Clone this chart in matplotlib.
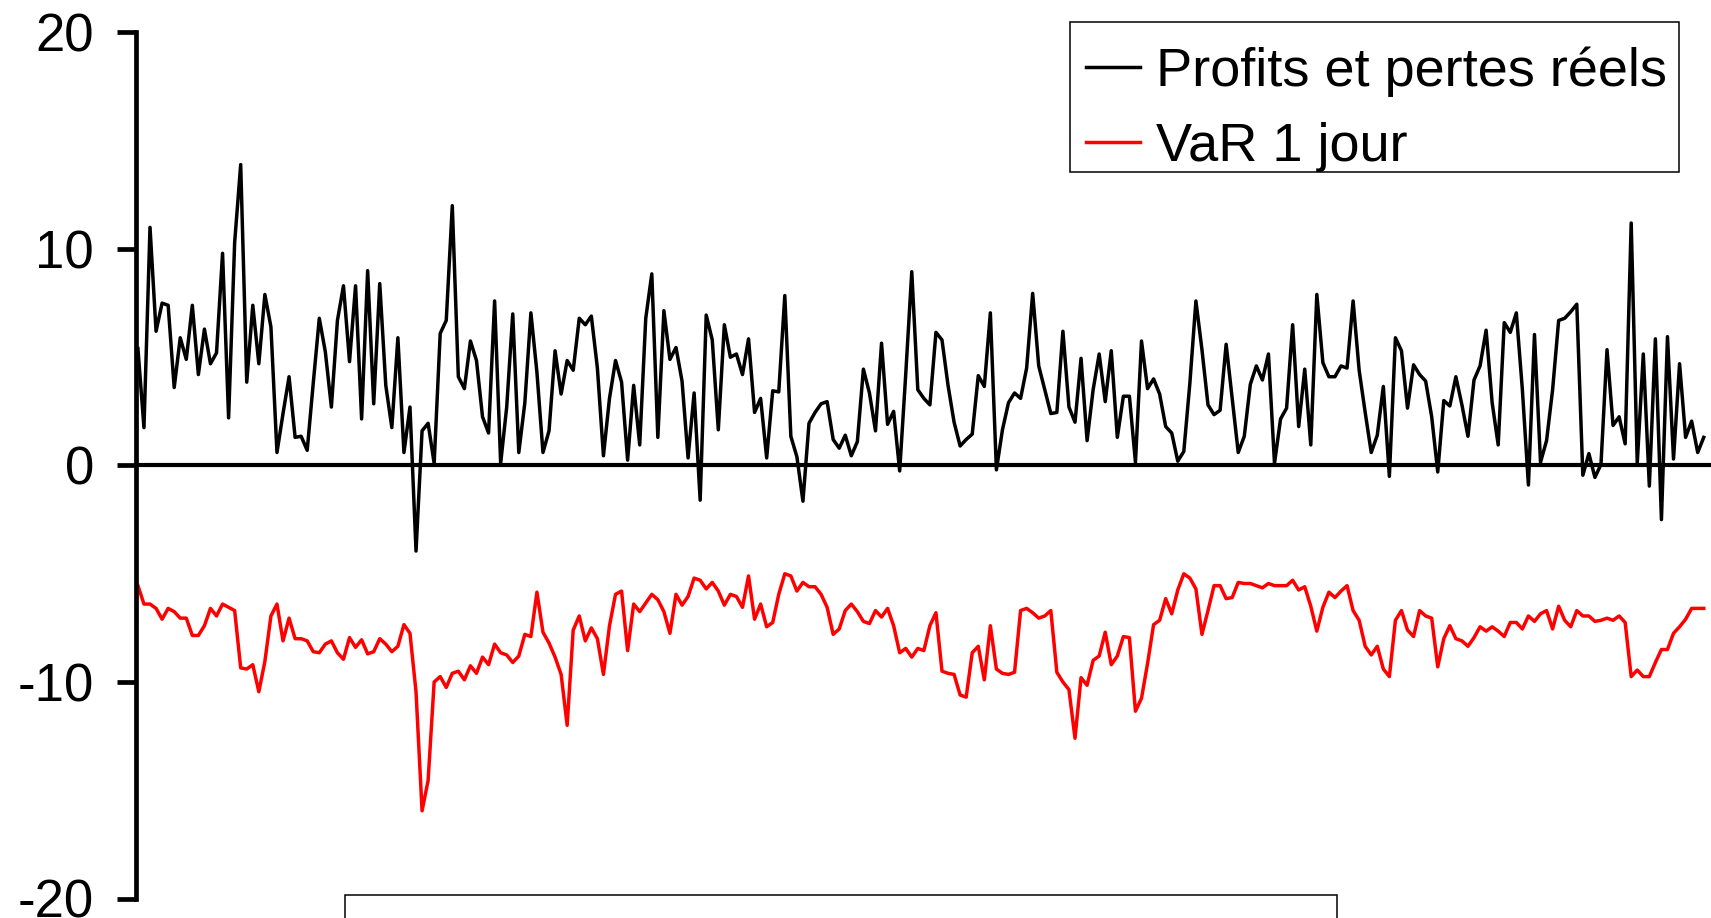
import numpy as np
import matplotlib
matplotlib.use("Agg")
import matplotlib.pyplot as plt
from matplotlib.patches import Rectangle

plt.rcParams['font.family'] = ['Liberation Sans', 'DejaVu Sans']
plt.rcParams['axes.unicode_minus'] = False

# profits et pertes reels (black) and VaR 1 jour (red), one value per trading day
pnl = [
    5.4, 1.75, 11.0, 6.2, 7.5, 7.4, 3.6, 5.9, 4.9, 7.4,
    4.2, 6.3, 4.7, 5.2, 9.8, 2.2, 10.3, 13.9, 3.85, 7.4,
    4.7, 7.9, 6.4, 0.6, 2.4, 4.1, 1.3, 1.35, 0.7, 3.8,
    6.8, 5.25, 2.7, 6.7, 8.3, 4.8, 8.3, 2.15, 9.0, 2.85,
    8.4, 3.7, 1.75, 5.9, 0.6, 2.7, -3.95, 1.6, 1.95, 0.1,
    6.1, 6.7, 12.0, 4.1, 3.55, 5.75, 4.85, 2.25, 1.5, 7.6,
    0.1, 2.7, 7.0, 0.6, 2.9, 7.05, 4.3, 0.6, 1.6, 5.3,
    3.3, 4.85, 4.4, 6.8, 6.5, 6.9, 4.5, 0.45, 3.1, 4.85,
    3.85, 0.25, 3.7, 0.95, 6.8, 8.85, 1.3, 7.15, 4.9, 5.45,
    3.9, 0.35, 3.35, -1.6, 6.95, 5.8, 1.65, 6.5, 5.0, 5.15,
    4.2, 5.85, 2.45, 3.1, 0.35, 3.45, 3.4, 7.85, 1.35, 0.4,
    -1.65, 1.95, 2.45, 2.85, 2.95, 1.2, 0.8, 1.4, 0.45, 1.1,
    4.45, 3.35, 1.6, 5.65, 1.9, 2.5, -0.25, 4.2, 8.95, 3.5,
    3.1, 2.8, 6.15, 5.8, 3.7, 2.0, 0.9, 1.2, 1.45, 4.15,
    3.65, 7.05, -0.2, 1.65, 2.9, 3.35, 3.1, 4.5, 7.95, 4.6,
    3.5, 2.4, 2.45, 6.2, 2.7, 2.0, 4.95, 1.15, 3.5, 5.15,
    2.95, 5.3, 1.3, 3.2, 3.2, 0.15, 5.75, 3.55, 4.0, 3.3,
    1.8, 1.5, 0.2, 0.65, 3.8, 7.6, 5.35, 2.8, 2.35, 2.55,
    5.6, 3.1, 0.6, 1.35, 3.75, 4.6, 3.95, 5.15, 0.1, 2.15,
    2.65, 6.5, 1.8, 4.45, 0.95, 7.9, 4.75, 4.1, 4.1, 4.6,
    4.5, 7.6, 4.4, 2.45, 0.6, 1.4, 3.65, -0.5, 5.9, 5.3,
    2.65, 4.65, 4.2, 3.9, 2.25, -0.3, 3.0, 2.75, 4.1, 2.8,
    1.35, 3.95, 4.6, 6.25, 2.9, 0.95, 6.6, 6.15, 7.05, 3.5,
    -0.9, 6.05, 0.15, 1.15, 3.5, 6.7, 6.8, 7.1, 7.45, -0.45,
    0.55, -0.55, 0.05, 5.35, 1.85, 2.25, 1.0, 11.2, 0.1, 5.15,
    -0.95, 5.85, -2.5, 5.95, 0.3, 4.7, 1.3, 2.05, 0.6, 1.3,
]

var_1j = [
    -5.55, -6.4, -6.4, -6.6, -7.1, -6.6, -6.75, -7.05, -7.05, -7.85,
    -7.85, -7.4, -6.6, -6.95, -6.4, -6.55, -6.7, -9.35, -9.4, -9.2,
    -10.45, -9.05, -6.95, -6.4, -8.1, -7.05, -8.0, -8.0, -8.1, -8.6,
    -8.65, -8.25, -8.1, -8.65, -8.95, -7.95, -8.4, -8.05, -8.7, -8.6,
    -8.0, -8.25, -8.6, -8.35, -7.35, -7.75, -10.45, -15.95, -14.55, -10.0,
    -9.75, -10.25, -9.6, -9.5, -9.9, -9.25, -9.6, -8.85, -9.2, -8.25,
    -8.65, -8.75, -9.1, -8.8, -7.8, -7.9, -5.85, -7.7, -8.2, -8.85,
    -9.65, -12.0, -7.6, -6.95, -8.1, -7.5, -8.0, -9.65, -7.4, -5.95,
    -5.8, -8.55, -6.4, -6.75, -6.35, -5.95, -6.2, -6.75, -7.75, -5.95,
    -6.45, -6.05, -5.2, -5.3, -5.7, -5.4, -5.8, -6.45, -5.95, -6.05,
    -6.55, -5.1, -7.1, -6.4, -7.45, -7.25, -5.95, -5.0, -5.1, -5.8,
    -5.4, -5.6, -5.6, -5.95, -6.55, -7.8, -7.55, -6.7, -6.4, -6.75,
    -7.2, -7.3, -6.7, -7.0, -6.6, -7.4, -8.65, -8.45, -8.85, -8.45,
    -8.55, -7.4, -6.8, -9.5, -9.6, -9.65, -10.6, -10.7, -8.65, -8.35,
    -9.9, -7.4, -9.4, -9.6, -9.65, -9.55, -6.7, -6.6, -6.8, -7.05,
    -6.95, -6.7, -9.55, -10.0, -10.35, -12.6, -9.8, -10.15, -9.0, -8.8,
    -7.7, -9.2, -8.8, -7.9, -7.95, -11.35, -10.75, -9.15, -7.35, -7.15,
    -6.15, -6.85, -5.75, -5.0, -5.2, -5.7, -7.8, -6.7, -5.55, -5.55,
    -6.15, -6.1, -5.4, -5.45, -5.45, -5.55, -5.65, -5.45, -5.55, -5.55,
    -5.55, -5.3, -5.75, -5.6, -6.5, -7.65, -6.55, -5.85, -6.1, -5.8,
    -5.55, -6.7, -7.15, -8.35, -8.75, -8.35, -9.4, -9.75, -7.15, -6.7,
    -7.6, -7.9, -6.7, -6.95, -7.05, -9.3, -8.0, -7.4, -8.0, -8.1,
    -8.35, -7.95, -7.45, -7.65, -7.45, -7.65, -7.9, -7.25, -7.25, -7.55,
    -6.95, -7.2, -6.85, -6.7, -7.55, -6.5, -7.15, -7.45, -6.7, -6.95,
    -6.95, -7.2, -7.15, -7.05, -7.15, -6.95, -7.25, -9.75, -9.45, -9.75,
    -9.75, -9.1, -8.5, -8.5, -7.75, -7.45, -7.1, -6.6, -6.6, -6.6,
]

labels = ['Profits et pertes réels', 'VaR 1 jour']
yticks = [-20, -10, 0, 10, 20]

W, H = 1711, 918
fig = plt.figure(figsize=(W / 100, H / 100), dpi=100)
ax = fig.add_axes([135.5 / W, 1 - 898.5 / H, 1 - 135.5 / W, (898.5 - 32.5) / H])

days = np.arange(len(pnl))
ax.plot(days, pnl, color='black', lw=2.5, label=labels[0])
ax.plot(days, var_1j, color='#ff0000', lw=2.5, label=labels[1])

ax.set_xlim(-0.4, 260.2)
ax.set_ylim(-20, 20)
ax.set_yticks(yticks)
ax.set_yticklabels([str(t) for t in yticks])

for s in ['top', 'right']:
    ax.spines[s].set_visible(False)
ax.spines['left'].set_linewidth(3.4)
ax.spines['bottom'].set_position(('data', 0))
ax.spines['bottom'].set_linewidth(3.0)
ax.set_xticks([])
ax.tick_params(axis='y', length=14, width=3.4, labelsize=38, pad=16)

# legend entries without frame, the frame is drawn as its own box
leg = ax.legend(loc='upper left', bbox_to_anchor=(1086 / W, 1 - 46.5 / H),
                bbox_transform=fig.transFigure, fontsize=39, frameon=False,
                handlelength=1.0, handletextpad=0.3,
                labelspacing=0.46, borderpad=0, borderaxespad=0)
for h in leg.get_lines():
    h.set_linewidth(2.5)
fig.add_artist(Rectangle((1070 / W, 1 - 172 / H), (1679 - 1070) / W, 150 / H,
                         transform=fig.transFigure, fill=False,
                         edgecolor='black', lw=1.1))

# box cut off at the bottom of the picture
fig.add_artist(Rectangle((345 / W, -0.1), (1337 - 345) / W, 0.1 + 1 - 895 / H,
                         transform=fig.transFigure, fill=False,
                         edgecolor='black', lw=1.1))

fig.savefig('out.png', dpi=100)
